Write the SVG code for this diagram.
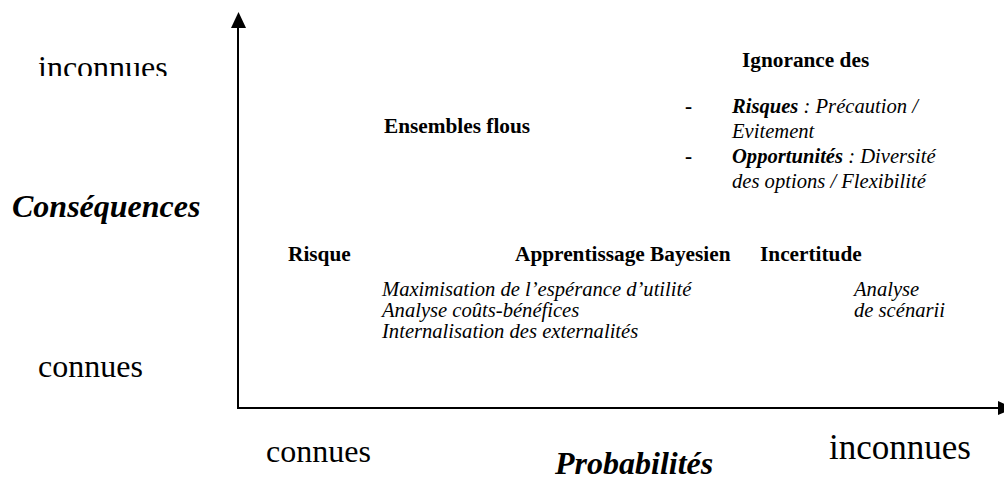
<svg xmlns="http://www.w3.org/2000/svg" width="1004" height="479" viewBox="0 0 1004 479">
<style>
text{font-family:"Liberation Serif","Times New Roman",serif;fill:#000}
.big{font-size:32px}
.bigbi{font-size:32px;font-weight:bold;font-style:italic}
.b{font-size:21.3px;font-weight:bold}
.i{font-size:20.6px;font-style:italic}
.bi{font-weight:bold}
.axis{stroke:#000;stroke-width:2;fill:none}
</style>
<defs>
<clipPath id="clipTop"><rect x="0" y="0" width="230" height="76"/></clipPath>
</defs>
<g id="connectors">
<line class="axis" x1="238" y1="409" x2="238" y2="24"/>
<polygon points="231,28 238.5,12 246,28" fill="#000"/>
<line class="axis" x1="237" y1="408" x2="1000" y2="408"/>
<polygon points="998,401 1014,408 998,415" fill="#000"/>
</g>
<g id="axis-labels">
<text class="big" x="38" y="78" clip-path="url(#clipTop)">inconnues</text>
<text class="bigbi" x="12" y="217">Conséquences</text>
<text class="big" x="38" y="377">connues</text>
<text class="big" x="266" y="462">connues</text>
<text class="bigbi" x="555" y="474">Probabilités</text>
<text class="big" x="829" y="459" style="font-size:35px">inconnues</text>
</g>
<g id="node-ensembles"><text class="b" x="384" y="133">Ensembles flous</text></g>
<g id="node-ignorance">
<text class="b" x="742" y="67">Ignorance des</text>
<text class="b" x="685" y="113">-</text>
<text class="i" x="732" y="113"><tspan class="bi">Risques</tspan> : Précaution /</text>
<text class="i" x="732" y="138">Evitement</text>
<text class="b" x="685" y="163">-</text>
<text class="i" x="732" y="163"><tspan class="bi">Opportunités</tspan> : Diversité</text>
<text class="i" x="732" y="188">des options / Flexibilité</text>
</g>
<g id="node-risque"><text class="b" x="288" y="261">Risque</text></g>
<g id="node-bayesien"><text class="b" x="515" y="261">Apprentissage Bayesien</text></g>
<g id="node-incertitude"><text class="b" x="760" y="261">Incertitude</text></g>
<g id="node-methodes">
<text class="i" x="382" y="296">Maximisation de l’espérance d’utilité</text>
<text class="i" x="382" y="317">Analyse coûts-bénéfices</text>
<text class="i" x="382" y="338">Internalisation des externalités</text>
</g>
<g id="node-scenarii">
<text class="i" x="854" y="296">Analyse</text>
<text class="i" x="854" y="317">de scénarii</text>
</g>
</svg>
